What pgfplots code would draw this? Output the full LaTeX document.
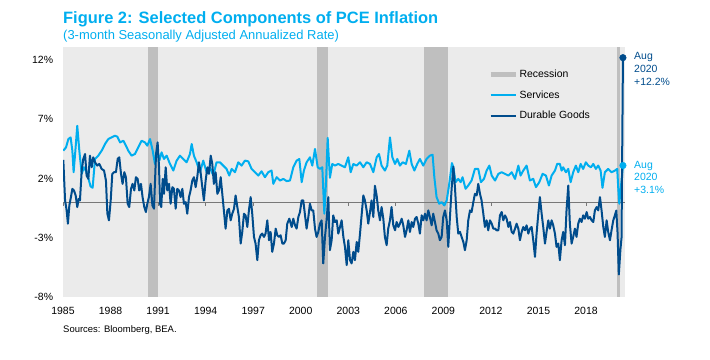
\documentclass[border=0pt]{standalone}
\usepackage{pgfplots}
\pgfplotsset{compat=1.18}
\usepackage{fontspec}
\setmainfont{Liberation Sans}
\definecolor{svc}{RGB}{0,174,239}
\definecolor{dur}{RGB}{0,76,140}
\definecolor{bggray}{RGB}{235,235,235}
\definecolor{recgray}{RGB}{191,191,191}
\definecolor{zerogray}{RGB}{120,120,120}
\begin{document}
\begin{tikzpicture}
\useasboundingbox (0,0) rectangle (710bp,360bp);
\begin{axis}[
  at={(63bp,63bp)}, anchor=south west,
  width=562bp, height=250bp, scale only axis,
  xmin=1985.14, xmax=2020.60, ymin=-8, ymax=13.1,
  axis background/.style={fill=bggray},
  axis line style={draw=none},
  major tick length=0pt,
  ytick={-8,-3,2,7,12},
  yticklabels={-8\%,-3\%,2\%,7\%,12\%},
  xtick={1985.14,1988.14,1991.14,1994.14,1997.14,2000.14,2003.14,2006.14,2009.14,2012.14,2015.14,2018.14},
  xticklabels={1985,1988,1991,1994,1997,2000,2003,2006,2009,2012,2015,2018},
  tick label style={font=\fontsize{10.5}{12}\selectfont},
  yticklabel style={anchor=east, inner sep=0pt, xshift=-9.7bp},
  xticklabel style={anchor=north, inner sep=0pt, yshift=-9.7bp},
  unbounded coords=jump,
  legend style={at={(0.756,0.915)}, anchor=north west, draw=none, fill=none,
    inner sep=0pt, font=\fontsize{10.5}{12}\selectfont, row sep=8.5bp,
    nodes={inner sep=1.5bp},
    /tikz/every even column/.append style={column sep=1bp}},
  legend cell align=left,
  legend image code/.code={\draw[#1] (0bp,0bp) -- (25bp,0bp);},
]
% recessions
\addplot[draw=none, fill=recgray,
  legend image code/.code={\draw[line width=5bp, recgray] (0bp,0bp) -- (25bp,0bp);}]
  coordinates {(1990.50,-8) (1990.50,13.1) (1991.13,13.1) (1991.13,-8)} -- cycle;
\addlegendentry{Recession}
\addplot[draw=none, fill=recgray, forget plot]
  coordinates {(2001.15,-8) (2001.15,13.1) (2001.85,13.1) (2001.85,-8)} -- cycle;
\addplot[draw=none, fill=recgray, forget plot]
  coordinates {(2007.91,-8) (2007.91,13.1) (2009.43,13.1) (2009.43,-8)} -- cycle;
\addplot[draw=none, fill=recgray, forget plot]
  coordinates {(2020.11,-8) (2020.11,13.1) (2020.30,13.1) (2020.30,-8)} -- cycle;
% zero line and ticks
\addplot[zerogray, line width=0.8bp, forget plot] coordinates {(1985.14,0) (2020.60,0)};
\addplot[zerogray, line width=0.8bp, forget plot] coordinates {
(1985.14,0) (1985.14,-0.34) (1985.14,nan)
(1988.14,0) (1988.14,-0.34) (1988.14,nan)
(1991.14,0) (1991.14,-0.34) (1991.14,nan)
(1994.14,0) (1994.14,-0.34) (1994.14,nan)
(1997.14,0) (1997.14,-0.34) (1997.14,nan)
(2000.14,0) (2000.14,-0.34) (2000.14,nan)
(2003.14,0) (2003.14,-0.34) (2003.14,nan)
(2006.14,0) (2006.14,-0.34) (2006.14,nan)
(2009.14,0) (2009.14,-0.34) (2009.14,nan)
(2012.14,0) (2012.14,-0.34) (2012.14,nan)
(2015.14,0) (2015.14,-0.34) (2015.14,nan)
(2018.14,0) (2018.14,-0.34)};
% Services
\addplot[svc, line width=2bp, line join=round] table {
1985.16 4.35
1985.33 4.63
1985.48 5.33
1985.62 5.47
1985.73 4.35
1985.81 2.53
1985.92 4.35
1986.04 6.45
1986.17 4.35
1986.32 2.39
1986.46 2.95
1986.63 2.53
1986.78 1.83
1986.88 1.33
1987.01 1.22
1987.16 3.65
1987.37 3.93
1987.58 4.35
1987.79 4.91
1988.00 5.33
1988.21 5.47
1988.42 5.61
1988.57 5.53
1988.74 5.05
1988.95 5.19
1989.11 4.77
1989.26 4.35
1989.47 3.93
1989.68 4.07
1989.89 4.63
1990.10 5.19
1990.31 5.05
1990.46 4.77
1990.63 5.33
1990.80 4.35
1990.94 3.23
1991.09 4.35
1991.22 3.51
1991.36 4.21
1991.51 3.65
1991.68 3.93
1991.89 3.23
1992.10 2.67
1992.31 3.51
1992.52 3.93
1992.73 3.65
1992.94 3.37
1993.15 4.07
1993.26 4.91
1993.40 3.93
1993.57 3.37
1993.78 2.53
1993.99 3.51
1994.20 2.53
1994.41 2.95
1994.62 2.25
1994.83 3.37
1995.04 3.37
1995.25 3.09
1995.46 2.81
1995.63 2.25
1995.78 2.81
1995.99 2.53
1996.20 3.37
1996.41 3.09
1996.62 3.51
1996.83 3.45
1997.04 2.81
1997.25 2.53
1997.46 2.25
1997.67 2.61
1997.88 2.11
1998.09 2.53
1998.30 2.67
1998.41 1.55
1998.62 2.11
1998.83 1.83
1999.04 1.97
1999.25 1.78
1999.46 1.83
1999.67 2.95
1999.88 3.51
2000.05 3.65
2000.20 1.69
2000.34 2.67
2000.51 3.37
2000.72 3.79
2000.87 3.09
2001.04 4.49
2001.21 2.95
2001.35 2.81
2001.50 2.95
2001.63 -0.97
2001.73 1.55
2001.84 5.43
2001.98 2.06
2002.13 3.23
2002.30 3.09
2002.51 3.23
2002.72 3.09
2002.93 2.95
2003.14 3.79
2003.29 2.53
2003.46 3.23
2003.67 3.09
2003.88 3.37
2004.09 2.95
2004.30 3.37
2004.51 3.23
2004.72 2.53
2004.93 3.79
2005.08 4.07
2005.24 3.09
2005.45 2.67
2005.60 3.09
2005.77 5.47
2005.92 3.79
2006.09 3.23
2006.23 3.65
2006.40 3.09
2006.57 3.37
2006.78 3.23
2006.99 4.35
2007.14 3.23
2007.31 2.67
2007.49 3.23
2007.66 3.65
2007.87 3.09
2008.08 3.65
2008.29 3.93
2008.46 4.01
2008.57 2.11
2008.71 0.43
2008.88 -0.13
2009.03 0.01
2009.20 -0.27
2009.35 0.15
2009.51 1.55
2009.68 3.30
2009.77 2.95
2009.91 1.69
2010.08 1.97
2010.23 1.69
2010.35 2.11
2010.54 1.13
2010.71 1.41
2010.92 1.83
2011.13 2.81
2011.34 2.81
2011.51 1.69
2011.70 1.97
2011.87 2.67
2012.04 3.09
2012.19 2.25
2012.40 1.83
2012.61 2.39
2012.82 2.53
2013.03 2.39
2013.24 2.25
2013.45 2.53
2013.66 1.97
2013.87 3.09
2014.01 2.25
2014.18 2.67
2014.39 3.09
2014.60 1.83
2014.81 1.97
2014.98 1.27
2015.19 1.69
2015.40 2.39
2015.61 2.25
2015.80 1.41
2015.97 2.25
2016.18 2.67
2016.32 3.23
2016.49 3.23
2016.60 2.67
2016.70 2.95
2016.87 2.53
2017.02 2.81
2017.17 1.69
2017.33 2.53
2017.50 3.09
2017.65 2.53
2017.80 3.23
2017.96 2.81
2018.13 3.37
2018.28 3.09
2018.45 2.95
2018.60 3.23
2018.76 2.81
2018.91 3.09
2019.06 2.67
2019.18 1.22
2019.33 2.53
2019.54 2.81
2019.75 2.53
2019.96 2.67
2020.11 2.81
2020.17 1.27
2020.24 -0.13
2020.35 1.40
2020.47 3.10
};
\addlegendentry{Services}
% Durable goods
\addplot[dur, line width=2bp, line join=round] table {
1985.16 3.57
1985.27 0.15
1985.37 -0.69
1985.45 -1.81
1985.54 -0.27
1985.64 0.43
1985.73 1.13
1985.83 0.99
1985.94 0.57
1986.04 -0.41
1986.13 0.29
1986.21 0.15
1986.32 2.67
1986.42 3.65
1986.53 4.07
1986.63 2.25
1986.74 1.97
1986.84 3.93
1986.95 2.95
1987.05 3.79
1987.16 3.37
1987.30 3.09
1987.43 3.23
1987.58 2.81
1987.73 2.67
1987.85 1.83
1987.94 -0.97
1988.04 -1.53
1988.15 0.15
1988.25 2.39
1988.36 2.53
1988.48 2.53
1988.59 3.65
1988.69 3.79
1988.80 2.39
1988.90 1.55
1989.01 2.53
1989.11 2.11
1989.22 -0.13
1989.32 -0.41
1989.43 1.13
1989.53 1.55
1989.64 0.99
1989.74 2.11
1989.85 1.97
1989.95 0.99
1990.06 1.55
1990.16 0.43
1990.27 -0.41
1990.37 -0.83
1990.46 -0.13
1990.56 0.43
1990.67 1.55
1990.78 -0.27
1990.88 -0.55
1991.01 4.07
1991.11 5.05
1991.20 2.95
1991.26 -0.13
1991.34 -0.41
1991.43 1.97
1991.51 0.71
1991.62 2.95
1991.72 0.99
1991.83 1.55
1991.93 -0.13
1992.04 1.27
1992.14 1.13
1992.25 -0.55
1992.35 1.13
1992.46 0.99
1992.56 0.43
1992.67 1.13
1992.77 -0.13
1992.88 0.01
1992.98 -0.97
1993.09 0.43
1993.19 0.99
1993.30 1.83
1993.40 2.11
1993.51 1.27
1993.61 2.11
1993.72 3.37
1993.82 2.53
1993.93 1.27
1994.03 0.15
1994.14 1.83
1994.25 2.95
1994.35 2.39
1994.46 3.93
1994.56 3.23
1994.66 1.55
1994.77 2.53
1994.88 0.71
1994.98 0.99
1995.09 2.11
1995.19 0.71
1995.30 -0.83
1995.40 -2.23
1995.51 -0.69
1995.61 -0.55
1995.72 -1.53
1995.82 -0.97
1995.93 -0.55
1996.03 0.57
1996.14 -0.41
1996.24 -1.25
1996.35 -3.49
1996.45 -2.51
1996.56 -0.97
1996.66 -1.11
1996.77 -2.09
1996.87 -0.69
1996.98 0.43
1997.08 -0.97
1997.19 -2.93
1997.29 -3.49
1997.40 -4.89
1997.50 -3.21
1997.61 -2.79
1997.71 -2.65
1997.82 -2.93
1997.92 -2.65
1998.03 -1.53
1998.14 -3.21
1998.24 -2.51
1998.34 -4.19
1998.45 -3.49
1998.56 -2.23
1998.66 -2.79
1998.77 -2.93
1998.87 -2.79
1998.98 -3.49
1999.08 -3.49
1999.19 -3.21
1999.29 -1.81
1999.42 -1.39
1999.57 -2.09
1999.67 -1.39
1999.78 -1.95
1999.88 -2.23
1999.99 -1.25
2000.09 -0.83
2000.20 0.15
2000.30 0.15
2000.41 -1.11
2000.51 -2.23
2000.62 -1.25
2000.72 -0.13
2000.83 -0.69
2000.93 -0.69
2001.04 -2.23
2001.14 -2.93
2001.25 -2.51
2001.35 -1.81
2001.46 -1.53
2001.56 -5.17
2001.67 -2.93
2001.77 -1.53
2001.88 0.43
2001.98 -4.05
2002.09 -3.21
2002.19 -1.11
2002.30 -1.67
2002.41 -1.53
2002.51 -2.65
2002.62 -2.09
2002.72 -1.53
2002.83 -2.93
2002.93 -3.77
2003.04 -5.31
2003.14 -3.21
2003.25 -4.89
2003.35 -5.17
2003.46 -4.19
2003.56 -4.89
2003.67 -3.35
2003.77 -4.19
2003.88 -2.65
2003.98 -1.11
2004.09 0.57
2004.19 0.15
2004.30 -0.69
2004.40 -1.81
2004.51 -0.83
2004.61 0.15
2004.72 -1.25
2004.82 1.39
2004.93 0.57
2005.03 -0.69
2005.14 -1.53
2005.24 -0.41
2005.35 -1.39
2005.45 -2.93
2005.56 -3.63
2005.66 -2.23
2005.77 -1.53
2005.87 -0.41
2005.98 -1.95
2006.09 -2.37
2006.19 -1.67
2006.30 -2.09
2006.40 -1.81
2006.51 -1.39
2006.61 -1.95
2006.72 -2.93
2006.82 -2.37
2006.93 -1.53
2007.03 -2.51
2007.14 -1.67
2007.24 -2.09
2007.35 -1.39
2007.45 -1.25
2007.56 -1.81
2007.66 -2.65
2007.77 -1.11
2007.87 -1.53
2007.98 -0.97
2008.08 -1.53
2008.19 -0.69
2008.29 -1.25
2008.40 -1.95
2008.50 -0.97
2008.61 -1.67
2008.71 -2.37
2008.82 -2.65
2008.92 -3.21
2009.03 -2.93
2009.13 -1.25
2009.24 -0.69
2009.35 -1.53
2009.45 -3.77
2009.56 -1.11
2009.66 1.13
2009.77 3.00
2009.87 1.27
2009.98 -1.25
2010.08 -2.65
2010.19 -2.51
2010.29 -2.93
2010.40 -3.35
2010.50 -4.05
2010.61 -3.21
2010.71 -1.53
2010.82 -0.69
2010.92 -0.83
2011.03 0.01
2011.13 0.71
2011.24 0.57
2011.34 1.55
2011.45 0.71
2011.55 0.15
2011.66 -0.97
2011.76 -2.09
2011.87 -1.53
2011.97 -2.37
2012.08 -1.53
2012.19 -1.81
2012.29 -2.23
2012.40 -2.23
2012.50 -2.37
2012.61 -2.37
2012.71 -1.11
2012.82 -0.83
2012.92 -1.53
2013.03 -1.11
2013.13 -1.39
2013.24 -2.09
2013.34 -1.67
2013.45 -2.51
2013.55 -2.65
2013.66 -2.23
2013.76 -1.81
2013.87 -2.23
2013.97 -3.21
2014.08 -2.51
2014.18 -2.09
2014.29 -2.37
2014.39 -1.95
2014.50 -2.65
2014.60 -2.23
2014.71 -2.09
2014.81 -3.21
2014.92 -4.61
2015.02 -2.65
2015.13 -0.97
2015.23 0.43
2015.34 -0.97
2015.44 -2.09
2015.55 -3.49
2015.65 -2.51
2015.76 -1.53
2015.86 -2.23
2015.97 -1.53
2016.07 -1.95
2016.18 -2.65
2016.28 -3.77
2016.39 -3.49
2016.49 -4.89
2016.60 -3.21
2016.70 -2.51
2016.81 -3.63
2016.91 -0.69
2017.02 1.41
2017.12 -1.81
2017.23 -3.49
2017.33 -2.93
2017.44 -2.23
2017.54 -2.93
2017.65 -1.81
2017.75 -1.39
2017.86 -1.67
2017.96 -1.11
2018.07 -1.39
2018.18 -0.83
2018.28 -1.39
2018.39 -1.25
2018.49 -1.53
2018.60 -1.67
2018.70 -0.69
2018.81 -0.41
2018.91 -0.69
2019.02 0.43
2019.12 -0.69
2019.23 -2.09
2019.33 -2.93
2019.44 -1.53
2019.54 -2.51
2019.65 -3.21
2019.75 -2.37
2019.86 -1.53
2019.96 -1.11
2020.05 -0.70
2020.13 -2.60
2020.21 -6.10
2020.31 -4.00
2020.38 -3.00
2020.47 12.20
};
\addlegendentry{Durable Goods}
\addplot[only marks, mark=*, mark size=3.3bp, svc, forget plot] coordinates {(2020.47,3.1)};
\addplot[only marks, mark=*, mark size=3.3bp, dur, forget plot] coordinates {(2020.47,12.2)};
\end{axis}
% titles
\node[anchor=base west, inner sep=0pt, text=svc, font=\bfseries\fontsize{16.5}{19}\selectfont] at (63bp,336.7bp) {Figure 2: Selected Components of PCE Inflation};
\node[anchor=base west, inner sep=0pt, text=svc, font=\fontsize{13}{15}\selectfont] at (63bp,320.7bp) {(3-month Seasonally Adjusted Annualized Rate)};
% annotations
\node[anchor=base west, inner sep=0pt, text=dur, font=\fontsize{10.5}{12}\selectfont] at (634bp,300bp) {Aug};
\node[anchor=base west, inner sep=0pt, text=dur, font=\fontsize{10.5}{12}\selectfont] at (634bp,287.3bp) {2020};
\node[anchor=base west, inner sep=0pt, text=dur, font=\fontsize{10.5}{12}\selectfont] at (634bp,274.7bp) {+12.2\%};
\node[anchor=base west, inner sep=0pt, text=svc, font=\fontsize{10.5}{12}\selectfont] at (634bp,191.7bp) {Aug};
\node[anchor=base west, inner sep=0pt, text=svc, font=\fontsize{10.5}{12}\selectfont] at (634bp,179bp) {2020};
\node[anchor=base west, inner sep=0pt, text=svc, font=\fontsize{10.5}{12}\selectfont] at (634bp,166.3bp) {+3.1\%};
% source
\node[anchor=base west, inner sep=0pt, font=\fontsize{9.5}{11}\selectfont] at (63bp,28bp) {Sources: Bloomberg, BEA.};
\end{tikzpicture}
\end{document}
